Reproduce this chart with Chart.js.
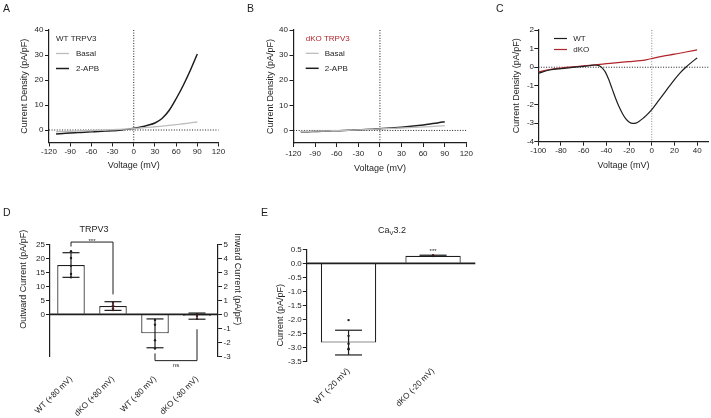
<!DOCTYPE html>
<html>
<head>
<meta charset="utf-8">
<title>TRPV3 / CaV3.2 currents</title>
<script src="https://cdn.jsdelivr.net/npm/chart.js@4.4.1/dist/chart.umd.min.js"></script>
<style>
  html, body { margin: 0; background: #fff; }
  #fig { position: relative; width: 711px; height: 418px; overflow: hidden; font-family: 'Liberation Sans', Arial, sans-serif; color: #1e1e1e; }
  #fig canvas { position: absolute; }
  .letter { position: absolute; font-size: 10.5px; line-height: 10px; }
  .title { position: absolute; font-size: 9px; line-height: 9px; transform: translate(-50%, -50%); white-space: nowrap; }
  .title sub { font-size: 6px; vertical-align: -2px; line-height: 0; }
</style>
</head>
<body>
<div id="fig">
  <canvas id="panelA" width="235" height="200" style="left:0;top:0"></canvas>
  <canvas id="panelB" width="240" height="200" style="left:235px;top:0"></canvas>
  <canvas id="panelC" width="241" height="200" style="left:470px;top:0"></canvas>
  <canvas id="panelD" width="262" height="218" style="left:0;top:200px"></canvas>
  <canvas id="panelE" width="258" height="218" style="left:262px;top:200px"></canvas>
  <div class="letter" style="left:3px;top:3px">A</div>
  <div class="letter" style="left:247px;top:3px">B</div>
  <div class="letter" style="left:496px;top:3px">C</div>
  <div class="letter" style="left:3px;top:207px">D</div>
  <div class="letter" style="left:261px;top:207px">E</div>
  <div class="title" style="left:94px;top:229px">TRPV3</div>
  <div class="title" style="left:392px;top:230px">Ca<sub>V</sub>3.2</div>
</div>
<script>
// A / B: TRPV3 I-V curves
const ivVolts = [-110, -100, -90, -80, -70, -60, -50, -40, -30, -20, -10, 0, 10, 20, 30, 40, 50, 60, 70, 80, 90];
const wtBasal = [-0.7, -0.6, -0.5, -0.4, -0.3, -0.2, -0.1, 0.0, 0.1, 0.25, 0.4, 0.55, 0.8, 1.05, 1.3, 1.55, 1.85, 2.15, 2.5, 2.85, 3.2];
const wtApb = [-1.6, -1.4, -1.2, -1.05, -0.9, -0.75, -0.6, -0.45, -0.3, -0.1, 0.25, 0.7, 1.2, 1.9, 2.8, 4.6, 7.8, 12.5, 17.8, 23.8, 30.4];
const koBasal = [-0.4, -0.35, -0.3, -0.22, -0.15, -0.08, 0.0, 0.1, 0.2, 0.32, 0.45, 0.6, 0.72, 0.85, 0.98, 1.1, 1.25, 1.4, 1.55, 1.72, 1.9];
const koApb = [-0.55, -0.48, -0.4, -0.32, -0.22, -0.12, -0.02, 0.1, 0.22, 0.36, 0.52, 0.7, 0.88, 1.08, 1.3, 1.55, 1.85, 2.2, 2.6, 3.0, 3.5];
const ivTicksX = [-120, -90, -60, -30, 0, 30, 60, 90, 120];
const ivTicksY = [0, 10, 20, 30, 40];

// C: CaV3.2 I-V curves
const cavVoltsWt = [-100, -90, -80, -70, -60, -55, -50, -47, -44, -41, -38, -35, -32, -29, -26, -23, -20, -17, -14, -11, -8, -5, 0, 5, 10, 15, 20, 25, 30, 35, 40];
const cavWt = [-0.32, -0.15, -0.07, -0.01, 0.05, 0.08, 0.12, 0.1, -0.02, -0.25, -0.65, -1.15, -1.65, -2.1, -2.47, -2.76, -2.94, -3.02, -3.0, -2.9, -2.76, -2.6, -2.28, -1.88, -1.47, -1.06, -0.66, -0.3, 0.0, 0.26, 0.5];
const cavVoltsKo = [-100, -90, -80, -70, -60, -50, -40, -30, -20, -10, -5, 0, 10, 20, 30, 40];
const cavKo = [-0.25, -0.12, -0.04, 0.02, 0.08, 0.13, 0.19, 0.25, 0.3, 0.35, 0.4, 0.47, 0.6, 0.7, 0.82, 0.93];
const cavTicksX = [-100, -80, -60, -40, -20, 0, 20, 40];
const cavTicksY = [-4, -3, -2, -1, 0, 1, 2];

// D: TRPV3 bars
const trpvLabels = [`WT (+80 mV)`, `dKO (+80 mV)`, `WT (-80 mV)`, `dKO (-80 mV)`];
const trpvAxis = [`y`, `y`, `y2`, `y2`];
const trpvMeans = [17.6, 2.95, -1.36, -0.13];
const trpvSd = [4.4, 1.55, 1.03, 0.22];
const trpvCells = [[22.5, 20.1, 17.3, 14.4, 13.2], [4.1, 3.2, 2.1, 1.5], [-0.4, -0.75, -1.85, -2.45], [-0.03, -0.12, -0.33]];
const outwardTicks = [0, 5, 10, 15, 20, 25];
const inwardTicks = [-3, -2, -1, 0, 1, 2, 3, 4, 5];

// E: CaV3.2 bars
const cavLabels = [`WT (-20 mV)`, `dKO (-20 mV)`];
const cavMeans = [-2.82, 0.27];
const cavSd = [0.44, 0.02];
const cavCells = [[-2.02, -2.58, -2.86, -3.04, -3.06], [0.26, 0.28, 0.29]];
const cavBarTicks = [-3.5, -3, -2.5, -2, -1.5, -1, -0.5, 0, 0.5];

const ink = `#1e1e1e`;
const grey = `#bdbdbd`;
const red = `#b0252a`;
const fontFam = `'Liberation Sans', Arial, sans-serif`;

Chart.defaults.font.family = fontFam;
Chart.defaults.color = ink;
Chart.defaults.animation = false;
Chart.defaults.events = [];
Chart.defaults.plugins.legend.display = false;
Chart.defaults.plugins.tooltip.enabled = false;

const tickFont = { size: 8 };
const titleFont = { size: 9 };
const axisGrid = { drawOnChartArea: false, tickLength: 4, color: ink, lineWidth: 1 };
const axisBorder = { color: ink, width: 1.2 };
const ticksFrom = (arr) => (s) => { s.ticks = arr.map((value) => ({ value })); };
const pts = (xs, ys) => xs.map((x, i) => ({ x, y: ys[i] }));

const stroke = (ctx, path) => {
  ctx.beginPath();
  path.forEach(([px, py], i) => (i ? ctx.lineTo(px, py) : ctx.moveTo(px, py)));
  ctx.stroke();
};

const vText = (ctx, text, px, py, dir) => {
  ctx.save();
  ctx.translate(px, py);
  ctx.rotate(dir * Math.PI / 2);
  ctx.font = `9px ${fontFam}`;
  ctx.fillStyle = ink;
  ctx.textAlign = `center`;
  ctx.textBaseline = `middle`;
  ctx.fillText(text, 0, 0);
  ctx.restore();
};

const drawErr = (ctx, px, scale, mean, sd, cap) => {
  const top = scale.getPixelForValue(mean + sd);
  const bot = scale.getPixelForValue(mean - sd);
  stroke(ctx, [[px, top], [px, bot]]);
  stroke(ctx, [[px - cap / 2, top], [px + cap / 2, top]]);
  stroke(ctx, [[px - cap / 2, bot], [px + cap / 2, bot]]);
};

const refLines = {
  id: `refLines`,
  beforeDatasetsDraw(chart, args, opts) {
    const { ctx, chartArea: a, scales: { x, y } } = chart;
    const x0 = x.getPixelForValue(0);
    const y0 = y.getPixelForValue(0);
    ctx.save();
    ctx.lineWidth = 1;
    ctx.setLineDash([1, 1.6]);
    ctx.strokeStyle = opts.vColor;
    stroke(ctx, [[x0, a.top], [x0, a.bottom]]);
    ctx.strokeStyle = ink;
    stroke(ctx, [[a.left, y0], [a.right, y0]]);
    ctx.restore();
  },
};

const ivLegend = {
  id: `ivLegend`,
  afterDraw(chart, args, opts) {
    const { ctx } = chart;
    let y = opts.y;
    ctx.save();
    ctx.font = `8px ${fontFam}`;
    ctx.textBaseline = `middle`;
    if (opts.title) {
      ctx.fillStyle = opts.titleColor;
      ctx.fillText(opts.title, opts.x, y);
      y += opts.gap;
    }
    chart.data.datasets.forEach((ds) => {
      ctx.strokeStyle = ds.borderColor;
      ctx.lineWidth = ds.borderWidth;
      stroke(ctx, [[opts.x, y], [opts.x + 13, y]]);
      ctx.fillStyle = ink;
      ctx.fillText(ds.label, opts.x + opts.textGap, y);
      y += opts.gap;
    });
    ctx.restore();
  },
};

const ivChart = (id, datasets, o) => new Chart(document.getElementById(id), {
  type: `line`,
  data: { datasets },
  options: {
    responsive: false,
    layout: { padding: { top: 30, right: o.right, bottom: 0, left: 0 } },
    elements: { point: { radius: 0 }, line: { cubicInterpolationMode: `monotone` } },
    scales: {
      x: {
        type: `linear`, min: o.xMin, max: o.xMax,
        afterBuildTicks: ticksFrom(o.xTicks),
        afterFit: (s) => { s.height = o.xh; },
        grid: axisGrid, border: axisBorder,
        ticks: { font: tickFont, padding: o.xPad, minRotation: 0, maxRotation: 0, autoSkip: false },
        title: { display: true, text: `Voltage (mV)`, font: titleFont, padding: { bottom: o.xTitle } },
      },
      y: {
        type: `linear`, min: o.yMin, max: o.yMax,
        afterBuildTicks: ticksFrom(o.yTicks),
        afterFit: (s) => { s.width = o.yw; },
        grid: axisGrid, border: axisBorder,
        ticks: { font: tickFont, padding: o.yPad },
        title: { display: true, text: `Current Density (pA/pF)`, font: titleFont, padding: { top: o.yTitle } },
      },
    },
    plugins: { refLines: { vColor: o.vColor }, ivLegend: o.legend },
  },
  plugins: [refLines, ivLegend],
});

ivChart(`panelA`, [
  { label: `Basal`, data: pts(ivVolts, wtBasal), borderColor: grey, borderWidth: 1.3 },
  { label: `2-APB`, data: pts(ivVolts, wtApb), borderColor: ink, borderWidth: 1.5 },
], {
  right: 16.5, xMin: -120, xMax: 120, xTicks: ivTicksX, xh: 57.5, xPad: 0.5, xTitle: 28.8,
  yMin: -5, yMax: 40, yTicks: ivTicksY, yw: 49, yPad: 1.5, yTitle: 19.6, vColor: ink,
  legend: { x: 56, y: 38.5, gap: 15, textGap: 20, title: `WT TRPV3`, titleColor: ink },
});

ivChart(`panelB`, [
  { label: `Basal`, data: pts(ivVolts, koBasal), borderColor: grey, borderWidth: 1.3 },
  { label: `2-APB`, data: pts(ivVolts, koApb), borderColor: ink, borderWidth: 1.5 },
], {
  right: 8.5, xMin: -120, xMax: 120, xTicks: ivTicksX, xh: 57, xPad: 2, xTitle: 26.2,
  yMin: -5, yMax: 40, yTicks: ivTicksY, yw: 58.5, yPad: 1.6, yTitle: 30.6, vColor: ink,
  legend: { x: 70.7, y: 38.3, gap: 15, textGap: 19, title: `dKO TRPV3`, titleColor: red },
});

ivChart(`panelC`, [
  { label: `WT`, data: pts(cavVoltsWt, cavWt), borderColor: ink, borderWidth: 1.2 },
  { label: `dKO`, data: pts(cavVoltsKo, cavKo), borderColor: red, borderWidth: 1.2 },
], {
  right: 2.5, xMin: -100, xMax: 50, xTicks: cavTicksX, xh: 58.3, xPad: 0.5, xTitle: 29.5,
  yMin: -4, yMax: 2, yTicks: cavTicksY, yw: 68.3, yPad: 0.3, yTitle: 41.2, vColor: `#8a8a8a`,
  legend: { x: 84, y: 38.5, gap: 11, textGap: 19.3 },
});

const barStyle = {
  backgroundColor: `#fff`, borderColor: ink, borderWidth: 1.2,
  barPercentage: 0.655, categoryPercentage: 1, grouped: false, order: 2,
};
const cellSet = (labels, cells, i, axis, color) => ({
  type: `line`, showLine: false, yAxisID: axis, order: 0,
  data: cells.map((y) => ({ x: labels[i], y })),
  pointRadius: 1.2, pointBorderWidth: 0, pointBackgroundColor: color,
});
const catAxis = (h, pad) => ({
  grid: { display: false }, border: { display: false },
  ticks: { font: { size: 8.2 }, minRotation: 45, maxRotation: 45, padding: pad, autoSkip: false },
  afterFit: (s) => { s.height = h; },
});

const trpvExtras = {
  id: `trpvExtras`,
  afterDatasetsDraw(chart) {
    const { ctx, chartArea: a, scales } = chart;
    const { x, y, y2 } = scales;
    const xs = trpvLabels.map((l, i) => x.getPixelForValue(i));
    ctx.save();
    ctx.strokeStyle = ink;
    ctx.lineWidth = 1.7;
    stroke(ctx, [[a.left, y.getPixelForValue(0)], [a.right, y.getPixelForValue(0)]]);
    ctx.lineWidth = 1.2;
    trpvMeans.forEach((m, i) => drawErr(ctx, xs[i], scales[trpvAxis[i]], m, trpvSd[i], 17));
    ctx.lineWidth = 1;
    const hi = y.getPixelForValue(25.8);
    stroke(ctx, [[xs[0], y.getPixelForValue(24.2)], [xs[0], hi], [xs[1], hi], [xs[1], y.getPixelForValue(7.1)]]);
    const lo = y2.getPixelForValue(-3.31);
    stroke(ctx, [[xs[2], y2.getPixelForValue(-2.79)], [xs[2], lo], [xs[3], lo], [xs[3], y2.getPixelForValue(-1.07)]]);
    ctx.fillStyle = ink;
    ctx.font = `6px ${fontFam}`;
    ctx.textAlign = `center`;
    ctx.textBaseline = `alphabetic`;
    ctx.fillText(`***`, (xs[0] + xs[1]) / 2, hi + 0.5);
    ctx.textBaseline = `top`;
    ctx.fillText(`ns`, (xs[2] + xs[3]) / 2, lo + 2);
    vText(ctx, `Outward Current (pA/pF)`, 24, y.getPixelForValue(12.5), -1);
    vText(ctx, `Inward Current (pA/pF)`, 237, y.getPixelForValue(12.5), 1);
    ctx.restore();
  },
};

new Chart(document.getElementById(`panelD`), {
  type: `bar`,
  data: {
    labels: trpvLabels,
    datasets: [
      { ...barStyle, yAxisID: `y`, data: trpvMeans.map((m, i) => (trpvAxis[i] === `y` ? m : null)) },
      { ...barStyle, yAxisID: `y2`, data: trpvMeans.map((m, i) => (trpvAxis[i] === `y2` ? m : null)) },
      ...trpvCells.map((c, i) => cellSet(trpvLabels, c, i, trpvAxis[i], i % 2 ? red : ink)),
    ],
  },
  options: {
    responsive: false,
    layout: { padding: { top: 44.3, right: 0, bottom: 0, left: 0 } },
    scales: {
      x: catAxis(61.7, 10),
      y: {
        position: `left`, min: -15, max: 25,
        afterBuildTicks: ticksFrom(outwardTicks),
        afterFit: (s) => { s.width = 50; },
        grid: axisGrid, border: axisBorder, ticks: { font: tickFont, padding: 1 },
      },
      y2: {
        position: `right`, min: -3, max: 5,
        afterBuildTicks: ticksFrom(inwardTicks),
        afterFit: (s) => { s.width = 44; },
        grid: axisGrid, border: axisBorder, ticks: { font: tickFont, padding: 1.5 },
      },
    },
  },
  plugins: [trpvExtras],
});

const cavExtras = {
  id: `cavExtras`,
  afterDatasetsDraw(chart) {
    const { ctx, chartArea: a, scales: { x, y } } = chart;
    const xs = cavLabels.map((l, i) => x.getPixelForValue(i));
    ctx.save();
    ctx.strokeStyle = ink;
    ctx.lineWidth = 1.7;
    stroke(ctx, [[a.left, y.getPixelForValue(0)], [a.right, y.getPixelForValue(0)]]);
    ctx.lineWidth = 1.2;
    cavMeans.forEach((m, i) => drawErr(ctx, xs[i], y, m, cavSd[i], 27));
    ctx.fillStyle = ink;
    ctx.font = `6px ${fontFam}`;
    ctx.textAlign = `center`;
    ctx.fillText(`***`, xs[1], y.getPixelForValue(cavMeans[1] + cavSd[1]) - 2.5);
    vText(ctx, `Current (pA/pF)`, 19, y.getPixelForValue(-1.85), -1);
    ctx.restore();
  },
};

new Chart(document.getElementById(`panelE`), {
  type: `bar`,
  data: {
    labels: cavLabels,
    datasets: [
      { ...barStyle, data: cavMeans },
      ...cavCells.map((c, i) => cellSet(cavLabels, c, i, `y`, i ? red : ink)),
    ],
  },
  options: {
    responsive: false,
    layout: { padding: { top: 49.3, right: 44.7, bottom: 0, left: 0 } },
    scales: {
      x: catAxis(56.3, -3.5),
      y: {
        min: -3.5, max: 0.5,
        afterBuildTicks: ticksFrom(cavBarTicks),
        afterFit: (s) => { s.width = 44.3; },
        grid: { ...axisGrid, tickLength: 3.5 }, border: axisBorder,
        ticks: { font: tickFont, padding: 1, callback: (v) => v.toFixed(1) },
      },
    },
  },
  plugins: [cavExtras],
});
</script>
</body>
</html>
